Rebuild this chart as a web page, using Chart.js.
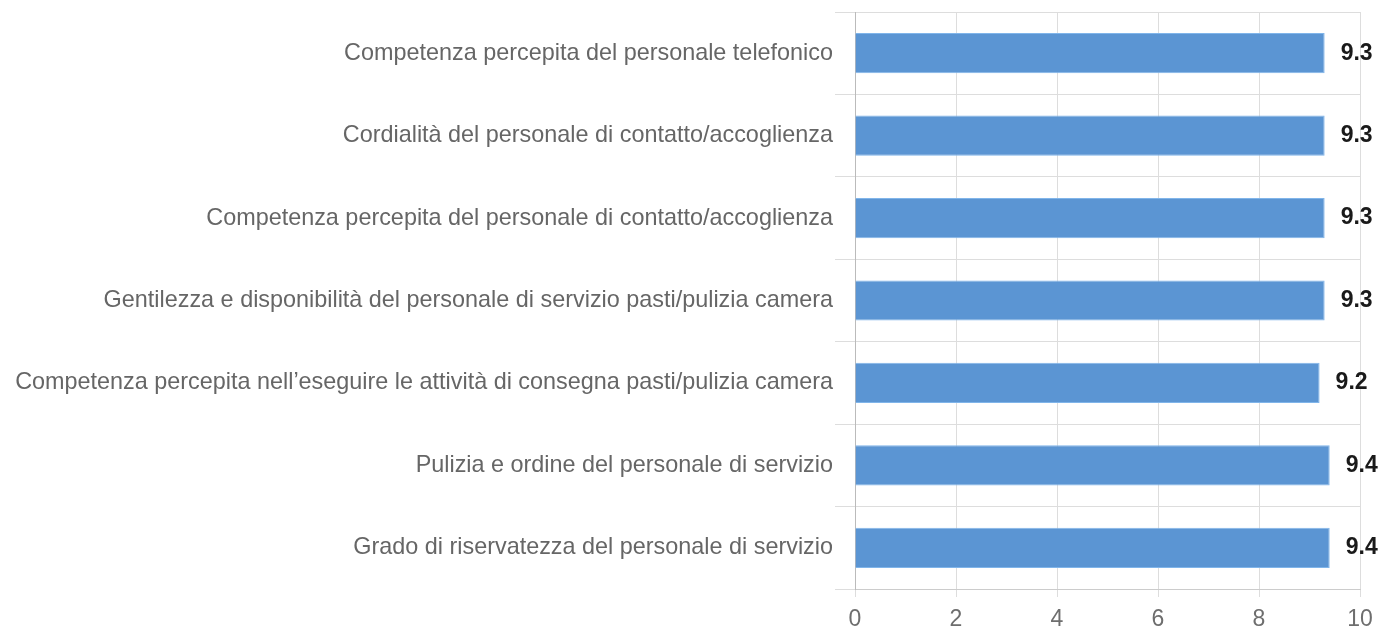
<!DOCTYPE html>
<html>
<head>
<meta charset="utf-8">
<script src="https://cdn.jsdelivr.net/npm/chart.js@4"></script>
<style>
  body { margin: 0; background: #fff; }
  #wrap { width: 1383px; height: 636px; }
</style>
</head>
<body>
<div id="wrap"><canvas id="myChart"></canvas></div>
<script>
// categories, top to bottom
const labels = [
  'Competenza percepita del personale telefonico',
  'Cordialità del personale di contatto/accoglienza',
  'Competenza percepita del personale di contatto/accoglienza',
  'Gentilezza e disponibilità del personale di servizio pasti/pulizia camera',
  'Competenza percepita nell\u2019eseguire le attività di consegna pasti/pulizia camera',
  'Pulizia e ordine del personale di servizio',
  'Grado di riservatezza del personale di servizio'
];
const values = [9.3, 9.3, 9.3, 9.3, 9.2, 9.4, 9.4];
const xTicks = [0, 2, 4, 6, 8, 10];

const BAR_COLOR = '#5b95d3';
const FONT = '"Liberation Sans", Arial, sans-serif';

// draws the bold value next to each bar
const valueLabels = {
  id: 'valueLabels',
  afterDatasetsDraw(chart) {
    const ctx = chart.ctx;
    const meta = chart.getDatasetMeta(0);
    ctx.save();
    ctx.font = 'bold 23px ' + FONT;
    ctx.fillStyle = '#1a1a1a';
    ctx.textAlign = 'left';
    ctx.textBaseline = 'middle';
    meta.data.forEach((bar, i) => {
      ctx.fillText(values[i].toFixed(1), bar.x + 16, bar.y);
    });
    ctx.restore();
  }
};

const data = {
  labels: labels,
  datasets: [{
    data: values,
    backgroundColor: BAR_COLOR,
    borderColor: '#80b5ea',
    borderWidth: 1,
    barPercentage: 0.61,
    categoryPercentage: 0.8
  }]
};

const config = {
  type: 'bar',
  data: data,
  options: {
    indexAxis: 'y',
    responsive: true,
    maintainAspectRatio: false,
    animation: false,
    layout: { padding: { top: 12, right: 23, left: 0, bottom: 0 } },
    plugins: {
      legend: { display: false },
      tooltip: { enabled: false }
    },
    scales: {
      x: {
        min: 0,
        max: 10,
        afterBuildTicks: (axis) => { axis.ticks = xTicks.map(v => ({ value: v })); },
        afterFit: (axis) => { axis.height = 47; },
        grid: { color: '#dddddd', tickLength: 8 },
        border: { color: '#cccccc' },
        ticks: { color: '#6e6e6e', font: { family: FONT, size: 23 }, padding: 9 }
      },
      y: {
        afterFit: (axis) => {
          axis.width = 855;
          axis.paddingTop = 0;
          axis.paddingBottom = 0;
        },
        grid: { color: '#dddddd', tickLength: 20 },
        border: { color: '#bbbbbb' },
        ticks: { color: '#666', font: { family: FONT, size: 23.4 }, padding: 2 }
      }
    }
  },
  plugins: [valueLabels]
};

const myChart = new Chart(document.getElementById('myChart'), config);
</script>
</body>
</html>
